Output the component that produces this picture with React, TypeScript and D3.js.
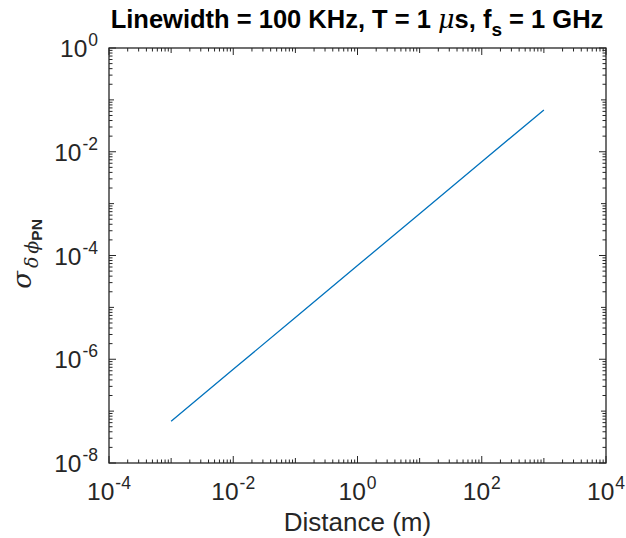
import React from "react";
import * as d3 from "d3";

const distances = [1e-3, 1e-2, 1e-1, 1, 10, 100, 1000];
const sigmaValues = [6.4e-8, 6.4e-7, 6.4e-6, 6.4e-5, 6.4e-4, 6.4e-3, 6.4e-2];
const xTickExps = [-4, -2, 0, 2, 4];
const yTickExps = [-8, -6, -4, -2, 0];

const W = 626, H = 538;
const M = { left: 109, right: 606, top: 48, bottom: 463 };
const AX = "#262626";
const FONT = "'Liberation Sans', Arial, Helvetica, sans-serif";
const SERIF = "'DejaVu Serif', 'Liberation Serif', serif";

export default function App() {
  const x = d3.scaleLog().domain([1e-4, 1e4]).range([M.left, M.right]);
  const y = d3.scaleLog().domain([1e-8, 1]).range([M.bottom, M.top]);
  const line = d3.line<number>()
    .x((_, i) => x(distances[i]))
    .y((d) => y(d));

  const minorX: number[] = [];
  for (let e = -4; e < 4; e++) for (let k = 1; k <= 9; k++) minorX.push(k * Math.pow(10, e));
  minorX.push(1e4);
  const minorY: number[] = [];
  for (let e = -8; e < 0; e++) for (let k = 1; k <= 9; k++) minorY.push(k * Math.pow(10, e));
  minorY.push(1);

  const isMajorX = (v: number) => xTickExps.some((e) => Math.abs(Math.log10(v) - e) < 1e-9);
  const isMajorY = (v: number) => yTickExps.some((e) => Math.abs(Math.log10(v) - e) < 1e-9);
  const isDecade = (v: number) => Math.abs(Math.log10(v) - Math.round(Math.log10(v))) < 1e-9;

  const ticks: JSX.Element[] = [];
  minorX.forEach((v, i) => {
    const len = isMajorX(v) ? 7 : isDecade(v) ? 5 : 3.5;
    const px = x(v);
    ticks.push(<line key={"xb" + i} x1={px} x2={px} y1={M.bottom} y2={M.bottom - len} stroke={AX} strokeWidth={1} />);
    ticks.push(<line key={"xt" + i} x1={px} x2={px} y1={M.top} y2={M.top + len} stroke={AX} strokeWidth={1} />);
  });
  minorY.forEach((v, i) => {
    const len = isMajorY(v) ? 7 : isDecade(v) ? 5 : 3.5;
    const py = y(v);
    ticks.push(<line key={"yl" + i} x1={M.left} x2={M.left + len} y1={py} y2={py} stroke={AX} strokeWidth={1} />);
    ticks.push(<line key={"yr" + i} x1={M.right} x2={M.right - len} y1={py} y2={py} stroke={AX} strokeWidth={1} />);
  });

  return (
    <svg width={W} height={H} style={{ position: "absolute", left: 0, top: 0, background: "#fff" }} fontFamily={FONT}>
      <rect x={0} y={0} width={W} height={H} fill="#fff" />
      <path d={line(sigmaValues) || ""} fill="none" stroke="#0072BD" strokeWidth={1.3} />
      {ticks}
      <rect x={M.left} y={M.top} width={M.right - M.left} height={M.bottom - M.top} fill="none" stroke={AX} strokeWidth={1.3} />
      {xTickExps.map((e) => (
        <text key={"xl" + e} x={x(Math.pow(10, e))} y={500} textAnchor="middle" fill={AX} fontSize={24.5}>
          10<tspan fontSize={17.5} dx={1} dy={-11}>{e}</tspan>
        </text>
      ))}
      {yTickExps.map((e) => (
        <text key={"yl" + e} x={98} y={y(Math.pow(10, e)) + 9} textAnchor="end" fill={AX} fontSize={24.5}>
          10<tspan fontSize={17.5} dx={1} dy={-11}>{e}</tspan>
        </text>
      ))}
      <text x={(M.left + M.right) / 2} y={531} textAnchor="middle" fill={AX} fontSize={26}>Distance (m)</text>
      <g transform="translate(31,254) rotate(-90)">
        <text x={0} y={0} textAnchor="middle" fill={AX} fontSize={26}>
          <tspan fontFamily={SERIF} fontStyle="italic">σ</tspan>
          <tspan fontFamily={SERIF} fontStyle="italic" fontSize={19} dy={7} dx={3}>δ</tspan>
          <tspan fontFamily={SERIF} fontStyle="italic" fontSize={19} dx={3}>ϕ</tspan>
          <tspan fontSize={15.5} fontWeight="bold" dy={4}>PN</tspan>
        </text>
      </g>
      <text x={357} y={28} textAnchor="middle" fill="#000" fontSize={25.5} fontWeight="bold">
        Linewidth = 100 KHz, T = 1 <tspan fontFamily={SERIF} fontStyle="italic" fontWeight="normal">μ</tspan>s, f<tspan fontSize={19} dy={8}>s</tspan><tspan dy={-8}> = 1 GHz</tspan>
      </text>
    </svg>
  );
}
